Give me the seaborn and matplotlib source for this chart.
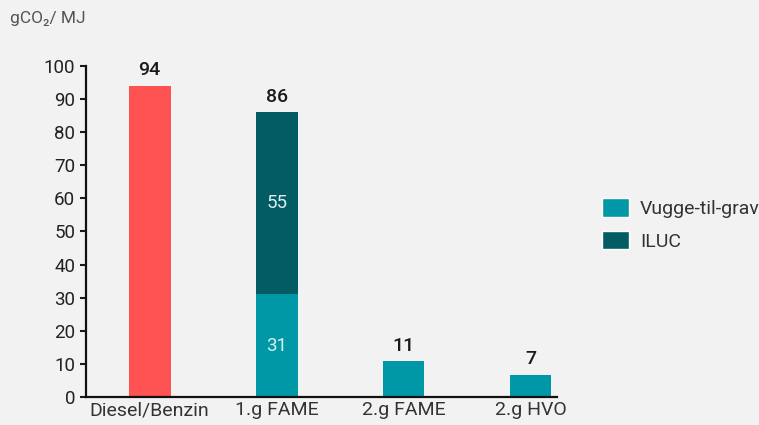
import matplotlib
matplotlib.use("Agg")
import matplotlib.pyplot as plt
from matplotlib.patches import Patch
import seaborn as sns
import pandas as pd

categories = ['Diesel/Benzin', '1.g FAME', '2.g FAME', '2.g HVO']
cradle_to_grave = [94, 31, 10.8, 6.6]
iluc = [0, 55, 0, 0]
total_labels = ['94', '86', '11', '7']
inner_labels = {1: ('31', '55')}

RED = '#ff5252'
TEAL = '#0098a6'
DARK = '#035c63'
BG = '#f2f2f2'

sns.set_style('ticks')
plt.rcParams['font.family'] = ['Roboto', 'DejaVu Sans']

df = pd.DataFrame({'cat': categories, 'cradle': cradle_to_grave, 'iluc': iluc})

fig = plt.figure(figsize=(7.59, 4.25), dpi=100, facecolor=BG)
ax = fig.add_axes([0.113, 0.066, 0.621, 0.779])
ax.set_facecolor(BG)

sns.barplot(data=df, x='cat', y='cradle', hue='cat',
            palette=[RED, TEAL, TEAL, TEAL], width=0.33,
            legend=False, ax=ax, saturation=1, linewidth=0)
ax.bar(range(len(categories)), df['iluc'], bottom=df['cradle'],
       width=0.33, color=DARK, linewidth=0)

for i, lab in enumerate(total_labels):
    top = df['cradle'][i] + df['iluc'][i]
    ax.text(i, top + 2.0, lab, ha='center', va='bottom',
            fontsize=14, fontweight='medium', color='#1a1a1a')

for i, (a, b) in inner_labels.items():
    ax.text(i, df['cradle'][i] / 2, a, ha='center', va='center',
            fontsize=13.5, color='#dcefef')
    ax.text(i, df['cradle'][i] + df['iluc'][i] / 2, b, ha='center',
            va='center', fontsize=13.5, color='#dcefef')

ax.set_xlim(-0.504, 3.21)
ax.set_ylim(0, 100)
ax.set_yticks(range(0, 101, 10))
ax.set_xlabel('')
ax.set_ylabel('')
ax.tick_params(axis='y', labelsize=13.5, length=4.5, width=1.5, pad=3,
               colors='#1a1a1a', labelcolor='#222222')
ax.tick_params(axis='x', labelsize=14, length=0, pad=3, labelcolor='#333333')
sns.despine(ax=ax)
ax.spines['left'].set_linewidth(1.6)
ax.spines['bottom'].set_linewidth(1.6)
ax.spines['left'].set_color('#111111')
ax.spines['bottom'].set_color('#111111')

fig.text(0.013, 0.957, 'gCO₂/ MJ', fontsize=12.5,
         color='#555555', va='center')

handles = [Patch(facecolor=TEAL, label='Vugge-til-grav'),
           Patch(facecolor=DARK, label='ILUC')]
fig.legend(handles=handles, loc='upper left', bbox_to_anchor=(0.793, 0.533),
           frameon=False, fontsize=14, handlelength=1.4, handleheight=1.05,
           handletextpad=0.55, labelspacing=0.68, borderaxespad=0,
           borderpad=0, labelcolor='#333333')

fig.savefig('out.png', dpi=100, facecolor=BG)
